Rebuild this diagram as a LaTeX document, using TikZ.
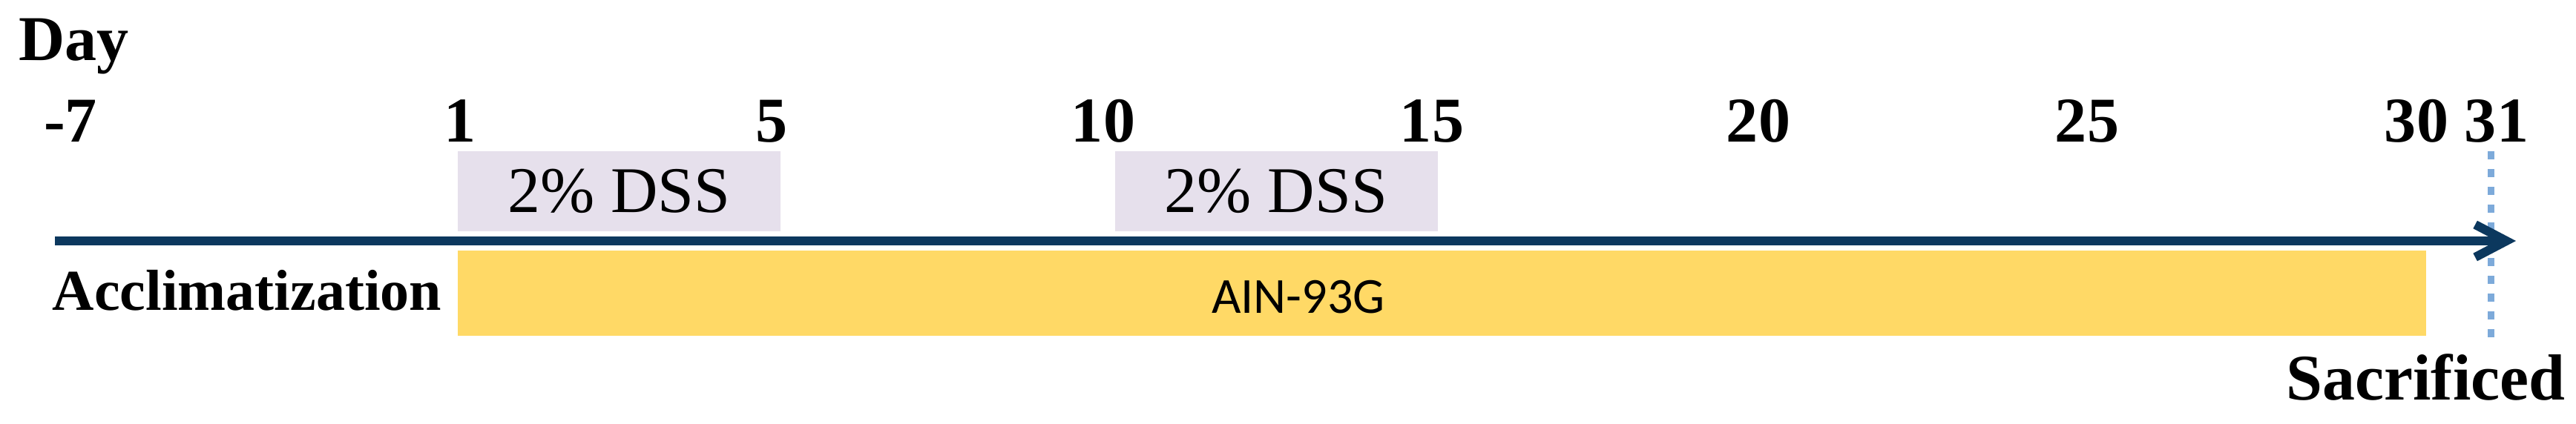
\documentclass[tikz,border=0pt]{standalone}
\usepackage{fontspec}
\setmainfont{Liberation Serif}
\newfontfamily\dietfont{Carlito}
\usetikzlibrary{arrows.meta}
\definecolor{navy}{RGB}{12,56,94}
\definecolor{dssfill}{RGB}{230,224,236}
\definecolor{dietfill}{RGB}{255,217,102}
\definecolor{sacblue}{RGB}{125,170,218}
\tikzset{
    daylabel/.style={anchor=base, inner sep=0pt, font=\fontsize{24.5}{29}\selectfont\bfseries},
    dssbox/.style={fill=dssfill, inner sep=0pt, minimum width=4.35cm, minimum height=1.08cm, font=\fontsize{25}{30}\selectfont},
    dietbar/.style={fill=dietfill, inner sep=0pt, minimum width=26.53cm, minimum height=1.15cm},
    timeline/.style={navy, line width=3.4pt, -{Straight Barb[length=0.42cm, width=0.44cm]}}
}
\begin{document}
\begin{tikzpicture}
                            \useasboundingbox (0,0) rectangle (34.72,5.71);
                            \node [anchor=base west, inner sep=0pt, font=\fontsize{24.5}{29}\selectfont\bfseries] (day) at (0.25,4.89) {Day};
                            \foreach \x/\d [count=\i] in {0.95/-7, 6.20/1, 10.40/5, 14.87/10, 19.30/15, 23.70/20, 28.13/25, 32.57/30, 33.65/31}
                            {
                                \node [daylabel] (d\i) at (\x,3.80) {\d};
                            }
                            \node [dssbox] (dss1) at (8.345,3.13) {2\% DSS};
                            \node [dssbox] (dss2) at (17.20,3.13) {2\% DSS};
                            \node [dietbar] (diet) at (19.435,1.755) {};
                            \node [anchor=base, inner sep=0pt, font=\dietfont\fontsize{19.4}{23}\selectfont] (ain) at (17.50,1.49) {AIN-93G};
                            \coordinate (sactop) at (33.57,3.67);
                            \coordinate (sacbot) at (33.57,1.16);
                            \draw [sacblue, line width=0.9mm, dash pattern=on 1.1mm off 1.3mm] (sactop) -- (sacbot);
                            \coordinate (tstart) at (0.74,2.46);
                            \coordinate (tend) at (33.91,2.46);
                            \draw [timeline] (tstart) -- (tend);
                            \node [anchor=base west, inner sep=0pt, font=\fontsize{22.2}{26}\selectfont\bfseries] (accl) at (0.70,1.53) {Acclimatization};
                            \node [anchor=base west, inner sep=0pt, font=\fontsize{25}{30}\selectfont\bfseries] (sac) at (30.81,0.32) {Sacrificed};
                        \end{tikzpicture}
\end{document}
